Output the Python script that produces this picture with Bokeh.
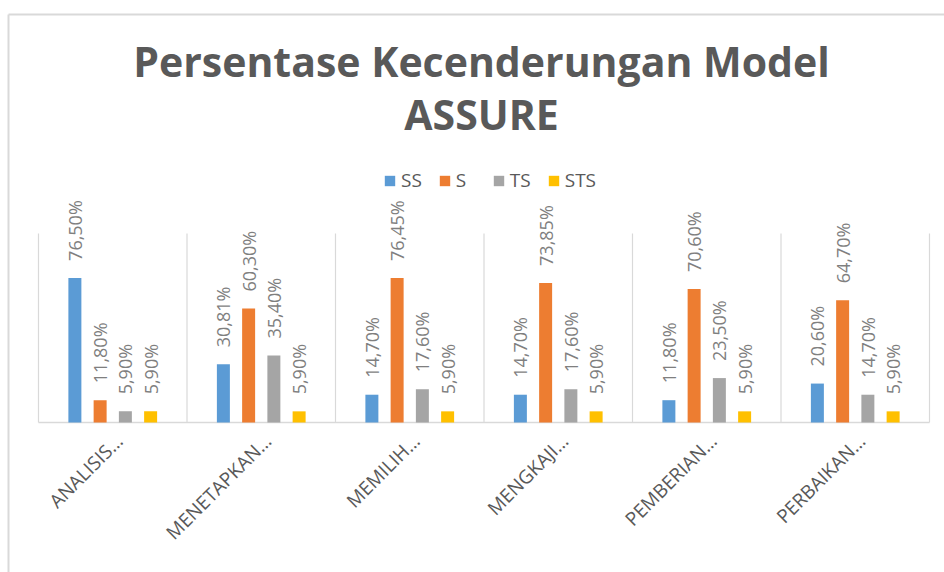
import math
from bokeh.plotting import figure
from bokeh.models import Range1d
from bokeh.core.properties import value
from bokeh.embed import file_html
from bokeh.resources import INLINE

# ---------------- data ----------------
categories = ["ANALISIS…", "MENETAPKAN…", "MEMILIH…", "MENGKAJI…", "PEMBERIAN…", "PERBAIKAN…"]
series_names = ["SS", "S", "TS", "STS"]
ss_values = [76.50, 30.81, 14.70, 14.70, 11.80, 20.60]
s_values = [11.80, 60.30, 76.45, 73.85, 70.60, 64.70]
ts_values = [5.90, 35.40, 17.60, 17.60, 23.50, 14.70]
sts_values = [5.90, 5.90, 5.90, 5.90, 5.90, 5.90]
title_lines = ["Persentase Kecenderungan Model", "ASSURE"]
y_axis_max = 100

# ---------------- styles / layout ----------------
colors = ["#5B9BD5", "#ED7D31", "#A5A5A5", "#FFC000"]
W, H = 944, 572
PLOT_LEFT_PX = 38.0
PLOT_BOTTOM_PX = 422.0
CAT_W_PX = 148.5
PX_PER_PCT = 1.89
BAR_W = 0.0875
OFFSETS = [-0.255, -0.085, 0.085, 0.255]
GRID_COLOR = "#d9d9d9"
TEXT_DARK = "#595959"
TEXT_LIGHT = "#7f7f7f"
FONT = "Open Sans"


def xd(px):
    return (px - PLOT_LEFT_PX) / CAT_W_PX


def yd(py):
    return (PLOT_BOTTOM_PX - py) / PX_PER_PCT


def fmt(v):
    return f"{v:.2f}%".replace(".", ",")


p = figure(
    width=W, height=H,
    x_range=Range1d(xd(0), xd(W)), y_range=Range1d(yd(H), yd(0)),
    output_backend="svg", toolbar_location=None, tools="",
    x_axis_type=None, y_axis_type=None, min_border=0,
    outline_line_color=None,
)
p.background_fill_color = "white"
p.border_fill_color = "white"

# chart border (left and top edges visible)
p.segment(x0=[xd(8), xd(8)], y0=[yd(14), yd(14)], x1=[xd(8), xd(W + 5)], y1=[yd(H + 5), yd(14)],
          line_color=GRID_COLOR, line_width=2)

n = len(categories)
# vertical category separators
p.segment(x0=list(range(n + 1)), y0=[0] * (n + 1), x1=list(range(n + 1)), y1=[y_axis_max] * (n + 1),
          line_color=GRID_COLOR, line_width=1.2)
# category axis line
p.segment(x0=[0], y0=[0], x1=[n], y1=[0], line_color=GRID_COLOR, line_width=1.6)

LABEL_PAD = 17 / PX_PER_PCT
all_series = [ss_values, s_values, ts_values, sts_values]
for k, (name, vals, col) in enumerate(zip(series_names, all_series, colors)):
    xs = [i + 0.5 + OFFSETS[k] for i in range(n)]
    p.vbar(x=xs, top=vals, bottom=0, width=BAR_W, fill_color=col, line_color=None, legend_label=name)
    p.text(x=xs, y=[v + LABEL_PAD for v in vals], text=[fmt(v) for v in vals],
           angle=math.pi / 2, text_align="left", text_baseline="middle",
           text_font=value(FONT), text_font_size="18px", text_color=TEXT_LIGHT)

# category labels (rotated 45 degrees)
p.text(x=[i + 0.5 + 6.5 / CAT_W_PX for i in range(n)], y=[-15 / PX_PER_PCT] * n, text=categories,
       angle=math.pi / 4, text_align="right", text_baseline="middle",
       text_font=value(FONT), text_font_size="19px", text_color=TEXT_DARK)

# title
p.text(x=[xd(481)] * 2, y=[yd(60), yd(113)], text=title_lines,
       text_align="center", text_baseline="alphabetic",
       text_font=value(FONT), text_font_style="bold", text_font_size="41px", text_color=TEXT_DARK)

# legend
lg = p.legend[0]
lg.orientation = "horizontal"
lg.location = (383, H - 193)
lg.glyph_width = 13
lg.glyph_height = 13
lg.label_standoff = 5
lg.spacing = 16
lg.padding = 0
lg.margin = 0
lg.border_line_color = None
lg.background_fill_alpha = 0
lg.label_text_font = FONT
lg.label_text_font_size = "19px"
lg.label_text_color = TEXT_DARK

open("out.html", "w").write(file_html(p, INLINE))
